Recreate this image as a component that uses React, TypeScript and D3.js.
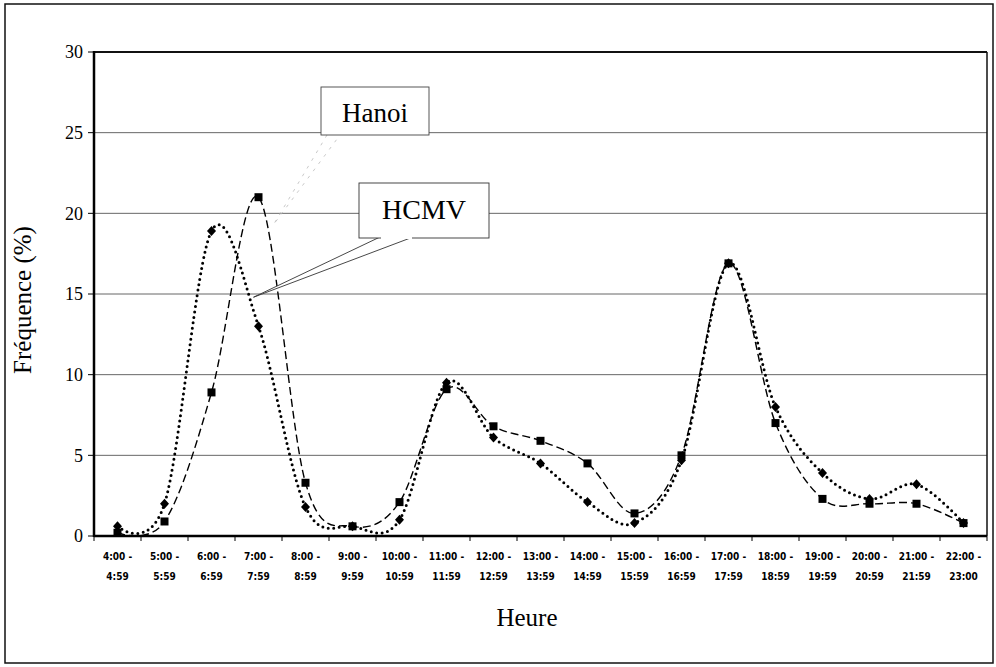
import * as d3 from 'd3';

const startLabels = ['4:00 -', '5:00 -', '6:00 -', '7:00 -', '8:00 -', '9:00 -', '10:00 -', '11:00 -', '12:00 -', '13:00 -', '14:00 -', '15:00 -', '16:00 -', '17:00 -', '18:00 -', '19:00 -', '20:00 -', '21:00 -', '22:00 -'];
const endLabels = ['4:59', '5:59', '6:59', '7:59', '8:59', '9:59', '10:59', '11:59', '12:59', '13:59', '14:59', '15:59', '16:59', '17:59', '18:59', '19:59', '20:59', '21:59', '23:00'];

// Hanoi : carrés, tirets
const hanoi = [0.2, 0.9, 8.9, 21.0, 3.3, 0.6, 2.1, 9.1, 6.8, 5.9, 4.5, 1.4, 5.0, 16.9, 7.0, 2.3, 2.0, 2.0, 0.8];
// HCMV : losanges, pointillés
const hcmv = [0.6, 2.0, 18.9, 13.0, 1.8, 0.6, 1.0, 9.5, 6.1, 4.5, 2.1, 0.8, 4.7, 16.9, 8.0, 3.9, 2.3, 3.2, 0.8];

const yTicks = [0, 5, 10, 15, 20, 25, 30];

const W = 996;
const H = 667;
const margin = { top: 52, right: 9, bottom: 131, left: 94 };

export default function App() {
  const x = d3.scaleBand<number>()
    .domain(d3.range(startLabels.length))
    .range([margin.left, W - margin.right]);
  const y = d3.scaleLinear().domain([0, 30]).range([H - margin.bottom, margin.top]);
  const cx = (i: number) => (x(i) as number) + x.bandwidth() / 2;

  const line = d3.line<number>()
    .x((_, i) => cx(i))
    .y(d => y(d))
    .curve(d3.curveCardinal.tension(0));

  const serif = '"Liberation Serif", "Times New Roman", serif';
  const x0 = margin.left;
  const x1 = W - margin.right;
  const yBase = y(0);

  // bulles
  const hcmvTip: [number, number] = [cx(3) - 5, y(14.8)];
  const hanoiTip: [number, number] = [cx(3) + 15, y(19.3)];

  return (
    <svg width={W} height={H} style={{ position: 'absolute', left: 0, top: 0, background: '#fff' }}>
      <rect x={5} y={4} width={988} height={659} fill="#fff" stroke="#111" strokeWidth={1.5} />

      {/* grille */}
      {yTicks.filter(t => t > 0 && t < 30).map(t => (
        <line key={t} x1={x0} x2={x1} y1={y(t)} y2={y(t)} stroke="#555" strokeWidth={0.9} />
      ))}
      <line x1={x0} x2={x1} y1={y(30)} y2={y(30)} stroke="#111" strokeWidth={2} />
      <line x1={x1} x2={x1} y1={y(30)} y2={yBase} stroke="#111" strokeWidth={1.5} />

      {/* axe Y */}
      <line x1={x0} x2={x0} y1={y(30) - 1} y2={yBase + 1} stroke="#000" strokeWidth={2.5} />
      {yTicks.map(t => (
        <g key={t}>
          <line x1={x0 - 6} x2={x0} y1={y(t)} y2={y(t)} stroke="#000" strokeWidth={1} />
          <text x={83} y={y(t)} dy="0.35em" textAnchor="end" fontFamily={serif} fontSize={18} fill="#000">{t}</text>
        </g>
      ))}
      <text transform={`translate(31,${(y(30) + yBase) / 2 + 6}) rotate(-90)`} textAnchor="middle" fontFamily={serif} fontSize={25} fill="#000">Fréquence (%)</text>

      {/* axe X */}
      <line x1={x0} x2={x1} y1={yBase} y2={yBase} stroke="#000" strokeWidth={2.5} />
      {d3.range(startLabels.length + 1).map(i => {
        const tx = i < startLabels.length ? (x(i) as number) : x1;
        return <line key={i} x1={tx} x2={tx} y1={yBase} y2={yBase + 5} stroke="#000" strokeWidth={1} />;
      })}
      {startLabels.map((s, i) => (
        <text key={i} x={cx(i)} textAnchor="middle" fontFamily='"Liberation Sans Narrow", "DejaVu Sans Condensed", sans-serif' fontSize={10} fontWeight="bold" fill="#000">
          <tspan x={cx(i)} y={yBase + 24}>{s}</tspan>
          <tspan x={cx(i)} y={yBase + 44}>{endLabels[i]}</tspan>
        </text>
      ))}
      <text x={527} y={626} textAnchor="middle" fontFamily={serif} fontSize={25} fill="#000">Heure</text>

      {/* séries */}
      <path d={line(hcmv) ?? ''} fill="none" stroke="#000" strokeWidth={3} strokeDasharray="0,5.5" strokeLinecap="round" />
      <path d={line(hanoi) ?? ''} fill="none" stroke="#000" strokeWidth={1.4} strokeDasharray="8,4" />
      {hcmv.map((v, i) => {
        const px = cx(i), py = y(v);
        return <path key={'d' + i} d={`M${px},${py - 5}L${px + 4.5},${py}L${px},${py + 5}L${px - 4.5},${py}Z`} fill="#000" />;
      })}
      {hanoi.map((v, i) => (
        <rect key={'s' + i} x={cx(i) - 4} y={y(v) - 4} width={8} height={8} fill="#000" />
      ))}

      {/* bulle Hanoi */}
      <path d={`M327,135L${hanoiTip[0]},${hanoiTip[1]}L340,135`} fill="none" stroke="#bbb" strokeWidth={0.8} strokeDasharray="3,6" />
      <rect x={321} y={87} width={108} height={48} fill="#fff" stroke="#444" strokeWidth={0.9} />
      <text x={375} y={122} textAnchor="middle" fontFamily={serif} fontSize={27} fill="#000">Hanoi</text>

      {/* bulle HCMV */}
      <path d={`M380,237L${hcmvTip[0]},${hcmvTip[1]}L413,237`} fill="#fff" stroke="#333" strokeWidth={0.9} />
      <rect x={359} y={183} width={130} height={55} fill="#fff" stroke="#333" strokeWidth={0.9} />
      <line x1={381} x2={412} y1={238} y2={238} stroke="#fff" strokeWidth={2} />
      <text x={424} y={219} textAnchor="middle" fontFamily={serif} fontSize={28} fill="#000">HCMV</text>
    </svg>
  );
}
